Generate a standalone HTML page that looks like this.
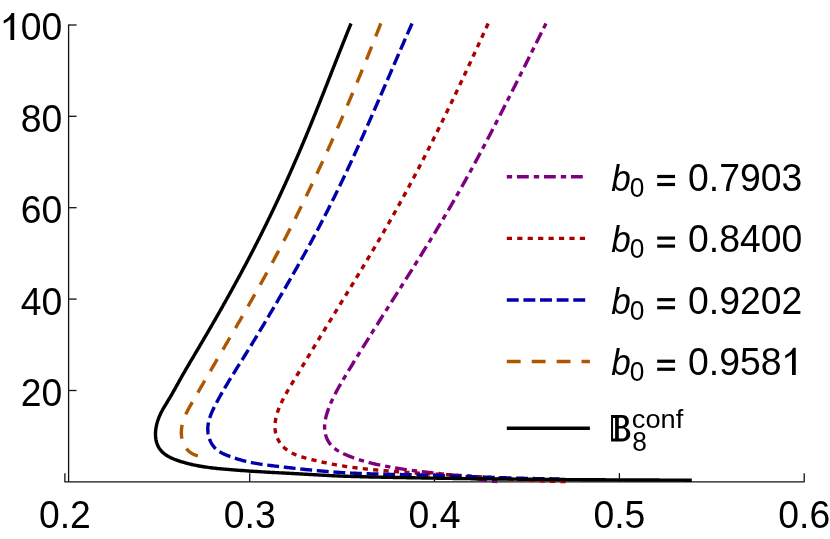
<!DOCTYPE html>
<html><head><meta charset="utf-8"><title>plot</title>
<style>
html,body{margin:0;padding:0;background:#fff;}
svg{display:block;will-change:transform;font-family:"Liberation Sans",sans-serif;}
</style></head>
<body>
<svg width="830" height="539" viewBox="0 0 830 539">
<rect width="830" height="539" fill="#fff"/>
<g stroke="#111" stroke-width="1.3" fill="none">
<line x1="64.4" y1="481.85" x2="804.6999999999999" y2="481.85"/>
<line x1="68.6" y1="481.85" x2="68.6" y2="24.450000000000045"/>
<line x1="64.9" y1="481.85" x2="64.9" y2="473.15000000000003"/>
<line x1="249.7" y1="481.85" x2="249.7" y2="473.15000000000003"/>
<line x1="434.5" y1="481.85" x2="434.5" y2="473.15000000000003"/>
<line x1="619.4" y1="481.85" x2="619.4" y2="473.15000000000003"/>
<line x1="804.2" y1="481.85" x2="804.2" y2="473.15000000000003"/>
<line x1="68.6" y1="390.5" x2="76.6" y2="390.5"/>
<line x1="68.6" y1="299.1" x2="76.6" y2="299.1"/>
<line x1="68.6" y1="207.7" x2="76.6" y2="207.7"/>
<line x1="68.6" y1="116.3" x2="76.6" y2="116.3"/>
<line x1="68.6" y1="25.0" x2="76.6" y2="25.0"/>
</g>
<g>
<path d="M545.98,23.46 L545.31,24.80 L544.64,26.14 L543.97,27.48 L543.30,28.82 L542.63,30.16 L541.97,31.50 L541.30,32.84 L540.63,34.18 L539.96,35.52 L539.29,36.86 L538.63,38.21 L537.96,39.55 L537.29,40.89 L536.62,42.23 L535.96,43.57 L535.29,44.91 L534.62,46.26 L533.95,47.60 L533.29,48.94 L532.62,50.28 L531.95,51.62 L531.28,52.97 L530.61,54.31 L529.95,55.65 L529.28,56.99 L528.61,58.34 L527.94,59.68 L527.27,61.02 L526.61,62.36 L525.94,63.70 L525.27,65.05 L524.60,66.39 L523.93,67.73 L523.26,69.07 L522.59,70.41 L521.92,71.76 L521.25,73.10 L520.58,74.44 L519.91,75.78 L519.24,77.12 L518.57,78.46 L517.90,79.80 L517.23,81.15 L516.56,82.49 L515.89,83.83 L515.21,85.17 L514.54,86.51 L513.87,87.85 L513.19,89.19 L512.52,90.53 L511.85,91.87 L511.17,93.21 L510.50,94.55 L509.82,95.89 L509.14,97.23 L508.47,98.57 L507.79,99.90 L507.11,101.24 L506.44,102.58 L505.76,103.92 L505.08,105.26 L504.40,106.59 L503.72,107.93 L503.04,109.27 L502.36,110.60 L501.68,111.94 L500.99,113.27 L500.31,114.61 L499.63,115.95 L498.94,117.28 L498.26,118.61 L497.57,119.95 L496.89,121.28 L496.20,122.62 L495.51,123.95 L494.82,125.28 L494.13,126.61 L493.44,127.95 L492.75,129.28 L492.06,130.61 L491.37,131.94 L490.68,133.27 L489.98,134.60 L489.29,135.93 L488.59,137.26 L487.90,138.59 L487.20,139.91 L486.50,141.24 L485.81,142.57 L485.11,143.89 L484.41,145.22 L483.70,146.55 L483.00,147.87 L482.30,149.20 L481.60,150.52 L480.89,151.84 L480.18,153.17 L479.48,154.49 L478.77,155.81 L478.06,157.13 L477.35,158.45 L476.64,159.77 L475.93,161.09 L475.21,162.41 L474.50,163.73 L473.79,165.05 L473.07,166.36 L472.35,167.68 L471.63,169.00 L470.91,170.31 L470.19,171.63 L469.47,172.94 L468.75,174.25 L468.02,175.57 L467.30,176.88 L466.57,178.19 L465.84,179.50 L465.12,180.81 L464.39,182.12 L463.65,183.43 L462.92,184.73 L462.19,186.04 L461.45,187.35 L460.72,188.65 L459.98,189.96 L459.24,191.26 L458.50,192.56 L457.76,193.87 L457.01,195.17 L456.27,196.47 L455.52,197.77 L454.78,199.07 L454.03,200.37 L453.28,201.66 L452.53,202.96 L451.77,204.26 L451.02,205.55 L450.26,206.85 L449.51,208.14 L448.75,209.43 L447.99,210.73 L447.23,212.02 L446.47,213.31 L445.70,214.60 L444.94,215.89 L444.17,217.18 L443.41,218.46 L442.64,219.75 L441.87,221.04 L441.10,222.32 L440.33,223.61 L439.56,224.89 L438.78,226.18 L438.01,227.46 L437.23,228.74 L436.46,230.03 L435.68,231.31 L434.90,232.59 L434.12,233.87 L433.34,235.15 L432.56,236.43 L431.78,237.71 L431.00,238.99 L430.21,240.27 L429.43,241.54 L428.64,242.82 L427.86,244.10 L427.07,245.37 L426.28,246.65 L425.49,247.92 L424.70,249.20 L423.91,250.47 L423.12,251.75 L422.33,253.02 L421.54,254.29 L420.75,255.57 L419.96,256.84 L419.16,258.11 L418.37,259.38 L417.57,260.66 L416.78,261.93 L415.98,263.20 L415.18,264.47 L414.39,265.74 L413.59,267.01 L412.79,268.28 L411.99,269.55 L411.19,270.82 L410.39,272.09 L409.59,273.35 L408.79,274.62 L407.99,275.89 L407.19,277.16 L406.39,278.43 L405.59,279.70 L404.79,280.96 L403.99,282.23 L403.18,283.50 L402.38,284.77 L401.58,286.03 L400.78,287.30 L399.97,288.57 L399.17,289.83 L398.37,291.10 L397.56,292.37 L396.76,293.63 L395.96,294.90 L395.15,296.17 L394.35,297.43 L393.54,298.70 L392.74,299.97 L391.94,301.23 L391.13,302.50 L390.33,303.76 L389.52,305.03 L388.72,306.30 L387.92,307.56 L387.11,308.83 L386.31,310.10 L385.51,311.36 L384.70,312.63 L383.90,313.90 L383.10,315.17 L382.30,316.43 L381.49,317.70 L380.69,318.97 L379.89,320.23 L379.09,321.50 L378.29,322.77 L377.49,324.04 L376.69,325.31 L375.89,326.58 L375.09,327.84 L374.29,329.11 L373.49,330.38 L372.69,331.65 L371.89,332.92 L371.09,334.19 L370.30,335.46 L369.50,336.73 L368.70,338.00 L367.91,339.28 L367.11,340.55 L366.32,341.82 L365.52,343.09 L364.73,344.36 L363.94,345.64 L363.14,346.91 L362.35,348.19 L361.56,349.46 L360.77,350.73 L359.98,352.01 L359.19,353.28 L358.41,354.56 L357.62,355.84 L356.83,357.11 L356.05,358.39 L355.26,359.67 L354.48,360.95 L353.70,362.23 L352.91,363.50 L352.13,364.78 L351.35,366.07 L350.57,367.35 L349.79,368.63 L349.02,369.91 L348.24,371.19 L347.46,372.48 L346.69,373.76 L345.92,375.04 L345.14,376.33 L344.37,377.61 L343.60,378.90 L342.84,380.19 L342.08,381.48 L341.32,382.77 L340.57,384.07 L339.82,385.37 L339.08,386.67 L338.35,387.98 L337.63,389.29 L336.91,390.60 L336.20,391.92 L335.51,393.24 L334.82,394.57 L334.15,395.91 L333.49,397.25 L332.84,398.60 L332.20,399.96 L331.58,401.32 L330.98,402.69 L330.39,404.07 L329.82,405.45 L329.26,406.85 L328.72,408.25 L328.20,409.67 L327.70,411.09 L327.22,412.53 L326.77,413.97 L326.35,415.42 L325.96,416.88 L325.61,418.35 L325.30,419.83 L325.04,421.32 L324.84,422.81 L324.69,424.31 L324.61,425.82 L324.59,427.34 L324.65,428.85 L324.77,430.37 L324.97,431.87 L325.24,433.36 L325.59,434.83 L326.02,436.27 L326.53,437.69 L327.12,439.06 L327.79,440.40 L328.53,441.69 L329.35,442.93 L330.24,444.13 L331.20,445.27 L332.21,446.35 L333.29,447.37 L334.43,448.33 L335.61,449.23 L336.85,450.08 L338.12,450.88 L339.42,451.64 L340.76,452.35 L342.11,453.03 L343.48,453.69 L344.87,454.32 L346.26,454.93 L347.65,455.52 L349.05,456.10 L350.45,456.66 L351.86,457.20 L353.27,457.73 L354.69,458.24 L356.11,458.73 L357.54,459.21 L358.96,459.68 L360.40,460.13 L361.83,460.57 L363.27,460.99 L364.71,461.40 L366.16,461.81 L367.60,462.19 L369.06,462.57 L370.51,462.94 L371.96,463.30 L373.42,463.64 L374.88,463.98 L376.34,464.31 L377.81,464.63 L379.27,464.94 L380.74,465.25 L382.21,465.55 L383.68,465.84 L385.15,466.13 L386.62,466.41 L388.09,466.68 L389.57,466.95 L391.04,467.21 L392.52,467.47 L394.00,467.72 L395.47,467.97 L396.95,468.21 L398.43,468.44 L399.91,468.68 L401.39,468.90 L402.88,469.13 L404.36,469.34 L405.84,469.56 L407.33,469.77 L408.81,469.98 L410.30,470.18 L411.78,470.38 L413.27,470.57 L414.76,470.77 L416.24,470.96 L417.73,471.14 L419.22,471.33 L420.71,471.51 L422.20,471.68 L423.69,471.86 L425.18,472.03 L426.67,472.20 L428.16,472.37 L429.65,472.54 L431.14,472.71 L432.63,472.87 L434.12,473.03 L435.61,473.19 L437.11,473.35 L438.60,473.51 L440.09,473.67 L441.58,473.83 L443.07,473.98 L444.56,474.14 L446.05,474.30 L447.55,474.46 L449.04,474.62 L450.53,474.78 L452.02,474.95 L453.50,475.12 L454.99,475.30 L456.48,475.48 L457.97,475.67 L459.45,475.87 L460.94,476.08 L462.42,476.29 L463.90,476.51 L465.38,476.74 L466.86,476.99 L468.34,477.24 L469.81,477.51 L471.29,477.78 L472.76,478.06 L474.24,478.34 L475.71,478.63 L477.18,478.92 L478.66,479.20 L480.13,479.47 L481.61,479.74 L483.08,480.00 L484.56,480.25 L486.04,480.48 L487.52,480.69 L489.01,480.89 L490.50,481.06 L491.99,481.21 L493.49,481.33 L494.99,481.42 L496.49,481.48 L498.00,481.51" fill="none" stroke="#7f007f" stroke-width="3.4" stroke-dasharray="5.35 4.8 11.85 5.0"/>
<path d="M488.16,23.46 L487.54,24.82 L486.92,26.19 L486.30,27.55 L485.68,28.92 L485.06,30.28 L484.44,31.64 L483.82,33.01 L483.20,34.37 L482.58,35.73 L481.96,37.10 L481.33,38.46 L480.71,39.82 L480.09,41.18 L479.47,42.55 L478.84,43.91 L478.22,45.27 L477.59,46.63 L476.97,47.99 L476.34,49.36 L475.72,50.72 L475.09,52.08 L474.46,53.44 L473.84,54.80 L473.21,56.16 L472.58,57.52 L471.95,58.88 L471.32,60.24 L470.69,61.60 L470.06,62.96 L469.43,64.32 L468.80,65.68 L468.17,67.04 L467.54,68.40 L466.90,69.75 L466.27,71.11 L465.64,72.47 L465.00,73.83 L464.37,75.18 L463.73,76.54 L463.09,77.90 L462.46,79.25 L461.82,80.61 L461.18,81.97 L460.54,83.32 L459.90,84.68 L459.26,86.03 L458.62,87.39 L457.98,88.74 L457.34,90.10 L456.69,91.45 L456.05,92.80 L455.41,94.16 L454.76,95.51 L454.12,96.86 L453.47,98.21 L452.82,99.57 L452.18,100.92 L451.53,102.27 L450.88,103.62 L450.23,104.97 L449.58,106.32 L448.93,107.67 L448.28,109.02 L447.62,110.37 L446.97,111.72 L446.32,113.06 L445.66,114.41 L445.00,115.76 L444.35,117.11 L443.69,118.45 L443.03,119.80 L442.37,121.14 L441.71,122.49 L441.05,123.84 L440.39,125.18 L439.73,126.52 L439.07,127.87 L438.40,129.21 L437.74,130.55 L437.07,131.90 L436.40,133.24 L435.74,134.58 L435.07,135.92 L434.40,137.26 L433.73,138.60 L433.06,139.94 L432.39,141.28 L431.71,142.62 L431.04,143.96 L430.37,145.30 L429.69,146.63 L429.01,147.97 L428.34,149.31 L427.66,150.64 L426.98,151.98 L426.30,153.31 L425.62,154.65 L424.93,155.98 L424.25,157.31 L423.57,158.65 L422.88,159.98 L422.19,161.31 L421.51,162.64 L420.82,163.97 L420.13,165.30 L419.44,166.63 L418.75,167.96 L418.05,169.29 L417.36,170.62 L416.67,171.94 L415.97,173.27 L415.27,174.60 L414.58,175.92 L413.88,177.25 L413.18,178.57 L412.48,179.90 L411.77,181.22 L411.07,182.54 L410.36,183.86 L409.66,185.19 L408.95,186.51 L408.24,187.83 L407.54,189.15 L406.82,190.47 L406.11,191.78 L405.40,193.10 L404.69,194.42 L403.97,195.74 L403.26,197.05 L402.54,198.37 L401.82,199.68 L401.10,200.99 L400.38,202.31 L399.66,203.62 L398.93,204.93 L398.21,206.24 L397.48,207.55 L396.76,208.86 L396.03,210.17 L395.30,211.48 L394.57,212.79 L393.83,214.10 L393.10,215.40 L392.37,216.71 L391.63,218.01 L390.89,219.32 L390.15,220.62 L389.41,221.92 L388.67,223.23 L387.93,224.53 L387.18,225.83 L386.44,227.13 L385.69,228.43 L384.95,229.72 L384.20,231.02 L383.45,232.32 L382.70,233.62 L381.94,234.91 L381.19,236.21 L380.43,237.50 L379.68,238.80 L378.92,240.09 L378.16,241.38 L377.41,242.68 L376.65,243.97 L375.89,245.26 L375.12,246.55 L374.36,247.84 L373.60,249.13 L372.83,250.42 L372.07,251.71 L371.30,253.00 L370.53,254.28 L369.77,255.57 L369.00,256.86 L368.23,258.14 L367.46,259.43 L366.69,260.71 L365.92,262.00 L365.14,263.28 L364.37,264.57 L363.60,265.85 L362.82,267.14 L362.05,268.42 L361.27,269.70 L360.50,270.98 L359.72,272.27 L358.94,273.55 L358.16,274.83 L357.39,276.11 L356.61,277.39 L355.83,278.67 L355.05,279.95 L354.27,281.23 L353.49,282.51 L352.71,283.79 L351.93,285.07 L351.15,286.35 L350.36,287.63 L349.58,288.91 L348.80,290.18 L348.02,291.46 L347.23,292.74 L346.45,294.02 L345.67,295.30 L344.89,296.57 L344.10,297.85 L343.32,299.13 L342.53,300.41 L341.75,301.68 L340.97,302.96 L340.18,304.24 L339.40,305.51 L338.61,306.79 L337.83,308.07 L337.05,309.34 L336.26,310.62 L335.48,311.90 L334.70,313.17 L333.91,314.45 L333.13,315.73 L332.34,317.00 L331.56,318.28 L330.78,319.56 L330.00,320.83 L329.21,322.11 L328.43,323.39 L327.65,324.66 L326.87,325.94 L326.08,327.22 L325.30,328.50 L324.52,329.77 L323.74,331.05 L322.96,332.33 L322.18,333.61 L321.40,334.89 L320.62,336.17 L319.84,337.45 L319.06,338.72 L318.28,340.00 L317.50,341.28 L316.73,342.57 L315.95,343.85 L315.17,345.13 L314.40,346.41 L313.62,347.69 L312.84,348.97 L312.07,350.26 L311.29,351.54 L310.52,352.82 L309.75,354.11 L308.98,355.39 L308.20,356.68 L307.43,357.96 L306.66,359.25 L305.89,360.53 L305.12,361.82 L304.34,363.10 L303.57,364.39 L302.80,365.67 L302.02,366.95 L301.25,368.24 L300.47,369.52 L299.70,370.80 L298.92,372.08 L298.14,373.36 L297.36,374.64 L296.58,375.92 L295.79,377.19 L295.01,378.47 L294.23,379.74 L293.44,381.02 L292.66,382.30 L291.88,383.57 L291.11,384.85 L290.34,386.14 L289.58,387.42 L288.82,388.71 L288.07,390.00 L287.32,391.30 L286.59,392.60 L285.86,393.91 L285.14,395.23 L284.44,396.55 L283.75,397.88 L283.07,399.21 L282.40,400.56 L281.75,401.91 L281.11,403.27 L280.49,404.64 L279.88,406.02 L279.30,407.42 L278.73,408.82 L278.20,410.23 L277.69,411.66 L277.22,413.09 L276.78,414.54 L276.38,415.99 L276.02,417.46 L275.71,418.94 L275.45,420.43 L275.24,421.92 L275.09,423.42 L275.00,424.93 L274.97,426.43 L275.00,427.93 L275.11,429.43 L275.29,430.92 L275.55,432.39 L275.87,433.85 L276.28,435.29 L276.75,436.70 L277.31,438.09 L277.94,439.43 L278.65,440.75 L279.42,442.02 L280.27,443.25 L281.18,444.44 L282.14,445.58 L283.17,446.67 L284.25,447.70 L285.38,448.69 L286.55,449.62 L287.77,450.50 L289.02,451.33 L290.31,452.11 L291.62,452.84 L292.96,453.52 L294.32,454.16 L295.70,454.76 L297.10,455.32 L298.51,455.84 L299.93,456.33 L301.37,456.79 L302.82,457.23 L304.28,457.65 L305.74,458.05 L307.21,458.43 L308.67,458.81 L310.14,459.18 L311.61,459.54 L313.07,459.90 L314.54,460.26 L316.00,460.61 L317.46,460.96 L318.92,461.30 L320.38,461.63 L321.84,461.97 L323.30,462.29 L324.75,462.61 L326.21,462.93 L327.68,463.23 L329.14,463.53 L330.60,463.83 L332.07,464.11 L333.53,464.39 L335.00,464.66 L336.47,464.93 L337.94,465.19 L339.42,465.44 L340.89,465.68 L342.37,465.92 L343.85,466.15 L345.33,466.38 L346.81,466.60 L348.29,466.81 L349.77,467.02 L351.25,467.22 L352.74,467.42 L354.22,467.61 L355.71,467.80 L357.20,467.99 L358.69,468.17 L360.18,468.34 L361.67,468.51 L363.16,468.68 L364.65,468.84 L366.14,469.00 L367.63,469.16 L369.12,469.31 L370.62,469.46 L372.11,469.61 L373.60,469.75 L375.10,469.89 L376.59,470.03 L378.08,470.16 L379.58,470.30 L381.07,470.43 L382.56,470.56 L384.06,470.69 L385.55,470.81 L387.04,470.93 L388.54,471.06 L390.03,471.17 L391.52,471.29 L393.02,471.41 L394.51,471.52 L396.01,471.63 L397.50,471.74 L398.99,471.85 L400.49,471.95 L401.98,472.06 L403.48,472.16 L404.97,472.26 L406.47,472.36 L407.96,472.46 L409.46,472.56 L410.95,472.65 L412.45,472.74 L413.94,472.84 L415.44,472.93 L416.93,473.02 L418.43,473.11 L419.92,473.20 L421.42,473.28 L422.91,473.37 L424.41,473.45 L425.90,473.54 L427.40,473.62 L428.90,473.71 L430.39,473.79 L431.89,473.87 L433.38,473.95 L434.88,474.03 L436.38,474.12 L437.87,474.20 L439.37,474.28 L440.87,474.36 L442.36,474.44 L443.86,474.52 L445.35,474.60 L446.85,474.69 L448.35,474.77 L449.84,474.85 L451.34,474.94 L452.84,475.02 L454.33,475.11 L455.83,475.19 L457.32,475.28 L458.82,475.37 L460.32,475.46 L461.81,475.55 L463.31,475.64 L464.80,475.74 L466.30,475.83 L467.79,475.93 L469.29,476.03 L470.78,476.13 L472.28,476.23 L473.77,476.33 L475.27,476.43 L476.76,476.54 L478.26,476.64 L479.75,476.75 L481.25,476.86 L482.74,476.96 L484.24,477.07 L485.73,477.18 L487.23,477.29 L488.72,477.40 L490.22,477.51 L491.71,477.62 L493.20,477.73 L494.70,477.84 L496.19,477.96 L497.69,478.07 L499.18,478.18 L500.68,478.29 L502.17,478.40 L503.66,478.51 L505.16,478.62 L506.65,478.72 L508.15,478.83 L509.64,478.94 L511.14,479.05 L512.63,479.15 L514.13,479.26 L515.62,479.36 L517.12,479.46 L518.61,479.56 L520.10,479.66 L521.60,479.76 L523.09,479.86 L524.59,479.95 L526.08,480.04 L527.58,480.14 L529.08,480.23 L530.57,480.31 L532.07,480.40 L533.56,480.48 L535.06,480.56 L536.55,480.64 L538.05,480.72 L539.55,480.79 L541.04,480.86 L542.54,480.93 L544.03,481.00 L545.53,481.06 L547.03,481.12 L548.52,481.18 L550.02,481.23 L551.52,481.29 L553.02,481.33 L554.51,481.38 L556.01,481.42 L557.51,481.46 L559.01,481.49 L560.51,481.52 L562.00,481.55 L563.50,481.57 L565.00,481.59 L566.50,481.61 L568.00,481.62 L569.50,481.63 L571.00,481.63" fill="none" stroke="#aa0000" stroke-width="3.4" stroke-dasharray="5.2 5.23"/>
<path d="M412.02,23.47 L411.42,24.84 L410.82,26.21 L410.21,27.58 L409.61,28.95 L409.01,30.32 L408.41,31.69 L407.80,33.07 L407.20,34.44 L406.60,35.81 L406.00,37.18 L405.40,38.55 L404.80,39.93 L404.20,41.30 L403.60,42.67 L403.01,44.05 L402.41,45.42 L401.81,46.79 L401.21,48.17 L400.61,49.54 L400.02,50.92 L399.42,52.29 L398.82,53.66 L398.23,55.04 L397.63,56.41 L397.03,57.79 L396.44,59.16 L395.84,60.54 L395.25,61.91 L394.65,63.29 L394.06,64.66 L393.46,66.04 L392.86,67.41 L392.27,68.79 L391.67,70.16 L391.08,71.54 L390.48,72.92 L389.89,74.29 L389.29,75.67 L388.70,77.04 L388.10,78.42 L387.51,79.79 L386.91,81.17 L386.31,82.54 L385.72,83.92 L385.12,85.29 L384.52,86.67 L383.93,88.04 L383.33,89.42 L382.73,90.79 L382.14,92.17 L381.54,93.54 L380.94,94.92 L380.34,96.29 L379.75,97.67 L379.15,99.04 L378.55,100.42 L377.95,101.79 L377.35,103.16 L376.75,104.54 L376.15,105.91 L375.55,107.29 L374.95,108.66 L374.35,110.03 L373.75,111.40 L373.14,112.78 L372.54,114.15 L371.94,115.52 L371.33,116.89 L370.73,118.27 L370.12,119.64 L369.52,121.01 L368.91,122.38 L368.31,123.75 L367.70,125.12 L367.09,126.49 L366.48,127.86 L365.87,129.23 L365.26,130.60 L364.65,131.97 L364.04,133.34 L363.43,134.70 L362.82,136.07 L362.21,137.44 L361.59,138.81 L360.98,140.17 L360.36,141.54 L359.74,142.91 L359.13,144.27 L358.51,145.64 L357.89,147.00 L357.27,148.37 L356.65,149.73 L356.03,151.09 L355.41,152.46 L354.78,153.82 L354.16,155.18 L353.53,156.54 L352.91,157.91 L352.28,159.27 L351.65,160.63 L351.02,161.99 L350.39,163.35 L349.76,164.70 L349.13,166.06 L348.49,167.42 L347.86,168.78 L347.22,170.13 L346.59,171.49 L345.95,172.85 L345.31,174.20 L344.67,175.56 L344.03,176.91 L343.39,178.26 L342.74,179.62 L342.10,180.97 L341.45,182.32 L340.80,183.67 L340.15,185.02 L339.50,186.37 L338.85,187.72 L338.20,189.07 L337.54,190.42 L336.89,191.76 L336.23,193.11 L335.57,194.45 L334.91,195.80 L334.25,197.14 L333.59,198.49 L332.93,199.83 L332.26,201.17 L331.59,202.51 L330.92,203.85 L330.25,205.19 L329.58,206.53 L328.91,207.87 L328.23,209.21 L327.56,210.55 L326.88,211.88 L326.20,213.22 L325.52,214.55 L324.84,215.89 L324.15,217.22 L323.47,218.55 L322.78,219.88 L322.09,221.21 L321.40,222.54 L320.70,223.87 L320.01,225.20 L319.31,226.52 L318.61,227.85 L317.91,229.18 L317.21,230.50 L316.51,231.82 L315.81,233.15 L315.10,234.47 L314.39,235.79 L313.68,237.11 L312.97,238.43 L312.26,239.75 L311.55,241.07 L310.83,242.39 L310.12,243.70 L309.40,245.02 L308.68,246.33 L307.96,247.65 L307.24,248.96 L306.52,250.28 L305.79,251.59 L305.07,252.90 L304.34,254.21 L303.61,255.52 L302.88,256.83 L302.15,258.14 L301.42,259.45 L300.69,260.76 L299.96,262.07 L299.22,263.37 L298.48,264.68 L297.75,265.99 L297.01,267.29 L296.27,268.60 L295.53,269.90 L294.79,271.20 L294.05,272.51 L293.31,273.81 L292.56,275.11 L291.82,276.41 L291.07,277.71 L290.33,279.01 L289.58,280.31 L288.83,281.61 L288.08,282.91 L287.33,284.21 L286.58,285.51 L285.83,286.81 L285.08,288.10 L284.33,289.40 L283.58,290.70 L282.82,291.99 L282.07,293.29 L281.32,294.58 L280.56,295.88 L279.81,297.17 L279.05,298.47 L278.29,299.76 L277.54,301.05 L276.78,302.35 L276.02,303.64 L275.26,304.93 L274.50,306.22 L273.74,307.51 L272.98,308.81 L272.22,310.10 L271.46,311.39 L270.70,312.68 L269.94,313.97 L269.18,315.26 L268.42,316.55 L267.65,317.83 L266.89,319.12 L266.13,320.41 L265.36,321.70 L264.60,322.99 L263.83,324.27 L263.07,325.56 L262.30,326.84 L261.53,328.13 L260.76,329.42 L259.99,330.70 L259.22,331.98 L258.45,333.27 L257.68,334.55 L256.90,335.83 L256.13,337.11 L255.35,338.40 L254.58,339.68 L253.80,340.96 L253.02,342.24 L252.24,343.51 L251.46,344.79 L250.67,346.07 L249.89,347.35 L249.10,348.62 L248.31,349.90 L247.53,351.17 L246.74,352.45 L245.94,353.72 L245.15,355.00 L244.36,356.27 L243.56,357.54 L242.76,358.81 L241.97,360.08 L241.17,361.35 L240.37,362.62 L239.57,363.90 L238.77,365.17 L237.97,366.44 L237.18,367.71 L236.38,368.98 L235.58,370.25 L234.79,371.53 L234.00,372.80 L233.21,374.07 L232.42,375.35 L231.63,376.63 L230.84,377.90 L230.06,379.18 L229.28,380.46 L228.50,381.74 L227.73,383.03 L226.95,384.31 L226.19,385.60 L225.42,386.88 L224.66,388.17 L223.90,389.47 L223.15,390.76 L222.40,392.06 L221.66,393.36 L220.92,394.66 L220.19,395.96 L219.46,397.27 L218.74,398.57 L218.02,399.89 L217.31,401.20 L216.61,402.52 L215.91,403.84 L215.22,405.16 L214.54,406.49 L213.87,407.83 L213.23,409.18 L212.60,410.54 L211.99,411.90 L211.41,413.29 L210.85,414.68 L210.33,416.10 L209.84,417.53 L209.39,418.97 L208.98,420.44 L208.62,421.91 L208.32,423.40 L208.08,424.90 L207.90,426.40 L207.80,427.91 L207.78,429.43 L207.84,430.95 L207.97,432.46 L208.18,433.96 L208.47,435.45 L208.83,436.92 L209.27,438.36 L209.78,439.78 L210.36,441.16 L211.02,442.50 L211.75,443.80 L212.56,445.05 L213.43,446.25 L214.37,447.39 L215.39,448.46 L216.47,449.47 L217.62,450.41 L218.84,451.27 L220.11,452.06 L221.43,452.80 L222.79,453.49 L224.18,454.13 L225.60,454.73 L227.03,455.30 L228.47,455.86 L229.91,456.39 L231.34,456.91 L232.77,457.42 L234.21,457.91 L235.64,458.38 L237.07,458.84 L238.50,459.29 L239.93,459.72 L241.37,460.13 L242.80,460.53 L244.24,460.91 L245.68,461.28 L247.13,461.63 L248.57,461.96 L250.03,462.28 L251.49,462.58 L252.95,462.87 L254.41,463.15 L255.88,463.41 L257.35,463.66 L258.83,463.90 L260.31,464.13 L261.78,464.35 L263.27,464.56 L264.75,464.77 L266.24,464.97 L267.72,465.16 L269.21,465.35 L270.70,465.53 L272.19,465.71 L273.68,465.89 L275.17,466.07 L276.66,466.24 L278.15,466.42 L279.65,466.60 L281.14,466.77 L282.63,466.95 L284.12,467.12 L285.61,467.30 L287.10,467.47 L288.59,467.64 L290.08,467.81 L291.57,467.98 L293.06,468.15 L294.55,468.32 L296.04,468.48 L297.53,468.65 L299.02,468.81 L300.51,468.97 L302.00,469.13 L303.50,469.29 L304.99,469.44 L306.48,469.60 L307.97,469.75 L309.46,469.90 L310.95,470.05 L312.44,470.20 L313.93,470.34 L315.43,470.49 L316.92,470.63 L318.41,470.76 L319.90,470.90 L321.39,471.03 L322.89,471.16 L324.38,471.29 L325.87,471.42 L327.36,471.54 L328.86,471.66 L330.35,471.78 L331.84,471.89 L333.34,472.00 L334.83,472.11 L336.33,472.21 L337.82,472.31 L339.31,472.41 L340.81,472.50 L342.30,472.60 L343.80,472.68 L345.29,472.77 L346.79,472.85 L348.28,472.93 L349.78,473.01 L351.28,473.08 L352.77,473.16 L354.27,473.23 L355.76,473.29 L357.26,473.36 L358.76,473.42 L360.25,473.48 L361.75,473.54 L363.25,473.59 L364.75,473.65 L366.24,473.70 L367.74,473.75 L369.24,473.80 L370.74,473.85 L372.23,473.89 L373.73,473.94 L375.23,473.98 L376.73,474.02 L378.23,474.06 L379.72,474.10 L381.22,474.14 L382.72,474.17 L384.22,474.21 L385.72,474.24 L387.22,474.28 L388.72,474.31 L390.21,474.34 L391.71,474.38 L393.21,474.41 L394.71,474.44 L396.21,474.47 L397.71,474.50 L399.21,474.53 L400.71,474.56 L402.21,474.59 L403.70,474.62 L405.20,474.65 L406.70,474.68 L408.20,474.72 L409.70,474.75 L411.20,474.78 L412.70,474.81 L414.20,474.84 L415.69,474.88 L417.19,474.91 L418.69,474.95 L420.19,474.98 L421.69,475.02 L423.19,475.06 L424.69,475.10 L426.18,475.14 L427.68,475.18 L429.18,475.22 L430.68,475.26 L432.18,475.31 L433.68,475.35 L435.17,475.40 L436.67,475.44 L438.17,475.49 L439.67,475.53 L441.17,475.58 L442.66,475.63 L444.16,475.68 L445.66,475.73 L447.16,475.78 L448.65,475.83 L450.15,475.88 L451.65,475.93 L453.15,475.98 L454.64,476.03 L456.14,476.08 L457.64,476.13 L459.14,476.19 L460.63,476.24 L462.13,476.29 L463.63,476.35 L465.13,476.40 L466.62,476.45 L468.12,476.51 L469.62,476.56 L471.12,476.61 L472.61,476.67 L474.11,476.72 L475.61,476.78 L477.11,476.83 L478.60,476.88 L480.10,476.94 L481.60,476.99 L483.10,477.04 L484.59,477.10 L486.09,477.15 L487.59,477.20 L489.09,477.25 L490.58,477.31 L492.08,477.36 L493.58,477.41 L495.08,477.46 L496.57,477.51 L498.07,477.56 L499.57,477.61 L501.07,477.66 L502.56,477.71 L504.06,477.76 L505.56,477.80 L507.06,477.85 L508.55,477.90 L510.05,477.94 L511.55,477.99 L513.05,478.03 L514.55,478.08 L516.04,478.12 L517.54,478.16 L519.04,478.20 L520.54,478.24 L522.03,478.28 L523.53,478.32 L525.03,478.36 L526.53,478.39 L528.03,478.43 L529.53,478.46 L531.02,478.50 L532.52,478.53 L534.02,478.56 L535.52,478.59 L537.02,478.62 L538.52,478.65 L540.01,478.67 L541.51,478.70 L543.01,478.72 L544.51,478.75 L546.01,478.77 L547.51,478.79 L549.01,478.81 L550.51,478.82 L552.01,478.84 L553.50,478.85 L555.00,478.87 L556.50,478.88 L558.00,478.89 L559.50,478.89" fill="none" stroke="#0000aa" stroke-width="3.4" stroke-dasharray="11.9 4.72"/>
<path d="M380.78,23.49 L380.23,24.88 L379.69,26.27 L379.14,27.67 L378.60,29.06 L378.05,30.45 L377.50,31.84 L376.96,33.24 L376.41,34.63 L375.86,36.02 L375.31,37.41 L374.76,38.80 L374.21,40.19 L373.65,41.59 L373.10,42.98 L372.55,44.37 L371.99,45.76 L371.44,47.15 L370.88,48.54 L370.33,49.93 L369.77,51.32 L369.21,52.71 L368.65,54.09 L368.09,55.48 L367.53,56.87 L366.97,58.26 L366.41,59.65 L365.85,61.04 L365.29,62.42 L364.72,63.81 L364.16,65.20 L363.59,66.58 L363.03,67.97 L362.46,69.36 L361.89,70.74 L361.33,72.13 L360.76,73.51 L360.19,74.90 L359.62,76.28 L359.04,77.67 L358.47,79.05 L357.90,80.44 L357.33,81.82 L356.75,83.21 L356.18,84.59 L355.60,85.97 L355.02,87.35 L354.45,88.74 L353.87,90.12 L353.29,91.50 L352.71,92.88 L352.13,94.26 L351.54,95.64 L350.96,97.02 L350.38,98.40 L349.79,99.78 L349.21,101.16 L348.62,102.54 L348.04,103.92 L347.45,105.30 L346.86,106.68 L346.27,108.05 L345.68,109.43 L345.09,110.81 L344.50,112.19 L343.91,113.56 L343.31,114.94 L342.72,116.31 L342.12,117.69 L341.53,119.06 L340.93,120.44 L340.33,121.81 L339.73,123.19 L339.13,124.56 L338.53,125.93 L337.93,127.30 L337.33,128.68 L336.72,130.05 L336.12,131.42 L335.51,132.79 L334.91,134.16 L334.30,135.53 L333.69,136.90 L333.08,138.27 L332.47,139.64 L331.86,141.01 L331.25,142.38 L330.64,143.74 L330.02,145.11 L329.41,146.48 L328.79,147.84 L328.18,149.21 L327.56,150.58 L326.94,151.94 L326.32,153.31 L325.70,154.67 L325.08,156.03 L324.46,157.40 L323.83,158.76 L323.21,160.12 L322.58,161.48 L321.96,162.84 L321.33,164.21 L320.70,165.57 L320.07,166.93 L319.44,168.29 L318.81,169.64 L318.18,171.00 L317.55,172.36 L316.91,173.72 L316.28,175.08 L315.64,176.43 L315.00,177.79 L314.36,179.14 L313.72,180.50 L313.08,181.85 L312.44,183.21 L311.80,184.56 L311.16,185.91 L310.51,187.27 L309.87,188.62 L309.22,189.97 L308.57,191.32 L307.92,192.67 L307.27,194.02 L306.62,195.37 L305.97,196.72 L305.32,198.07 L304.66,199.42 L304.01,200.76 L303.35,202.11 L302.69,203.45 L302.03,204.80 L301.37,206.15 L300.71,207.49 L300.05,208.83 L299.39,210.18 L298.73,211.52 L298.06,212.86 L297.39,214.20 L296.73,215.54 L296.06,216.88 L295.39,218.22 L294.72,219.56 L294.04,220.90 L293.37,222.24 L292.70,223.58 L292.02,224.91 L291.35,226.25 L290.67,227.58 L289.99,228.92 L289.31,230.25 L288.63,231.59 L287.95,232.92 L287.26,234.25 L286.58,235.58 L285.89,236.92 L285.20,238.25 L284.52,239.58 L283.83,240.91 L283.14,242.23 L282.44,243.56 L281.75,244.89 L281.06,246.22 L280.36,247.54 L279.67,248.87 L278.97,250.19 L278.27,251.52 L277.57,252.84 L276.87,254.16 L276.17,255.48 L275.46,256.80 L274.76,258.13 L274.05,259.45 L273.34,260.76 L272.63,262.08 L271.92,263.40 L271.21,264.72 L270.50,266.03 L269.79,267.35 L269.07,268.67 L268.36,269.98 L267.64,271.29 L266.92,272.61 L266.20,273.92 L265.48,275.23 L264.76,276.54 L264.03,277.85 L263.31,279.16 L262.58,280.47 L261.86,281.78 L261.13,283.09 L260.40,284.40 L259.67,285.70 L258.94,287.01 L258.21,288.32 L257.48,289.62 L256.75,290.93 L256.01,292.23 L255.28,293.54 L254.54,294.84 L253.81,296.14 L253.07,297.45 L252.33,298.75 L251.59,300.05 L250.85,301.35 L250.11,302.65 L249.37,303.95 L248.63,305.26 L247.88,306.56 L247.14,307.85 L246.39,309.15 L245.65,310.45 L244.90,311.75 L244.16,313.05 L243.41,314.35 L242.66,315.65 L241.92,316.94 L241.17,318.24 L240.42,319.54 L239.67,320.83 L238.92,322.13 L238.17,323.43 L237.42,324.72 L236.66,326.02 L235.91,327.31 L235.16,328.61 L234.41,329.90 L233.65,331.20 L232.90,332.49 L232.15,333.79 L231.39,335.08 L230.64,336.38 L229.88,337.67 L229.13,338.97 L228.37,340.26 L227.61,341.56 L226.86,342.85 L226.10,344.14 L225.34,345.44 L224.59,346.73 L223.83,348.03 L223.07,349.32 L222.32,350.61 L221.56,351.91 L220.80,353.20 L220.04,354.50 L219.29,355.79 L218.53,357.08 L217.77,358.38 L217.01,359.67 L216.26,360.97 L215.50,362.26 L214.74,363.56 L213.98,364.85 L213.23,366.15 L212.47,367.44 L211.71,368.74 L210.96,370.03 L210.20,371.33 L209.44,372.62 L208.68,373.92 L207.93,375.21 L207.17,376.51 L206.42,377.81 L205.66,379.10 L204.91,380.40 L204.15,381.70 L203.40,383.00 L202.64,384.29 L201.89,385.59 L201.13,386.89 L200.38,388.19 L199.63,389.49 L198.87,390.79 L198.12,392.09 L197.37,393.39 L196.62,394.69 L195.87,395.99 L195.12,397.29 L194.37,398.59 L193.62,399.89 L192.87,401.20 L192.12,402.50 L191.37,403.80 L190.63,405.11 L189.89,406.42 L189.16,407.73 L188.44,409.04 L187.74,410.36 L187.06,411.69 L186.40,413.02 L185.76,414.37 L185.16,415.72 L184.59,417.09 L184.05,418.47 L183.55,419.86 L183.10,421.27 L182.68,422.70 L182.32,424.14 L182.01,425.60 L181.76,427.08 L181.56,428.57 L181.43,430.08 L181.36,431.59 L181.35,433.11 L181.42,434.62 L181.56,436.13 L181.78,437.63 L182.07,439.11 L182.45,440.58 L182.90,442.01 L183.44,443.41 L184.05,444.78 L184.75,446.10 L185.53,447.36 L186.39,448.57 L187.33,449.72 L188.36,450.80 L189.47,451.80 L190.67,452.73 L191.95,453.56 L193.32,454.30 L194.77,454.95 L196.31,455.48 L197.94,455.91" fill="none" stroke="#ad5700" stroke-width="3.4" stroke-dasharray="13.85 11.07"/>
<path d="M351.00,23.50 L350.43,24.89 L349.87,26.28 L349.30,27.67 L348.74,29.06 L348.18,30.45 L347.62,31.84 L347.06,33.23 L346.50,34.62 L345.94,36.01 L345.38,37.40 L344.83,38.79 L344.27,40.18 L343.71,41.57 L343.16,42.97 L342.60,44.36 L342.05,45.75 L341.50,47.14 L340.94,48.54 L340.39,49.93 L339.84,51.32 L339.29,52.72 L338.74,54.11 L338.19,55.50 L337.64,56.90 L337.09,58.29 L336.54,59.69 L335.99,61.08 L335.44,62.48 L334.89,63.87 L334.34,65.27 L333.79,66.66 L333.24,68.06 L332.69,69.45 L332.15,70.85 L331.60,72.24 L331.05,73.64 L330.50,75.03 L329.95,76.43 L329.40,77.82 L328.86,79.22 L328.31,80.61 L327.76,82.00 L327.21,83.40 L326.66,84.79 L326.11,86.19 L325.56,87.58 L325.01,88.98 L324.46,90.37 L323.91,91.77 L323.36,93.16 L322.81,94.55 L322.26,95.95 L321.70,97.34 L321.15,98.73 L320.60,100.13 L320.04,101.52 L319.49,102.91 L318.93,104.30 L318.38,105.70 L317.82,107.09 L317.26,108.48 L316.71,109.87 L316.15,111.26 L315.59,112.65 L315.03,114.04 L314.47,115.43 L313.91,116.82 L313.34,118.21 L312.78,119.60 L312.22,120.99 L311.65,122.38 L311.09,123.76 L310.52,125.15 L309.95,126.54 L309.38,127.92 L308.81,129.31 L308.24,130.70 L307.67,132.08 L307.09,133.47 L306.52,134.85 L305.94,136.23 L305.36,137.62 L304.79,139.00 L304.21,140.38 L303.62,141.76 L303.04,143.14 L302.46,144.52 L301.87,145.90 L301.29,147.28 L300.70,148.66 L300.11,150.04 L299.52,151.42 L298.93,152.80 L298.34,154.17 L297.75,155.55 L297.15,156.93 L296.56,158.30 L295.96,159.68 L295.36,161.05 L294.76,162.42 L294.16,163.80 L293.56,165.17 L292.96,166.54 L292.35,167.91 L291.75,169.28 L291.14,170.65 L290.53,172.02 L289.92,173.39 L289.31,174.76 L288.70,176.13 L288.08,177.50 L287.47,178.87 L286.85,180.23 L286.24,181.60 L285.62,182.96 L285.00,184.33 L284.37,185.69 L283.75,187.05 L283.13,188.42 L282.50,189.78 L281.88,191.14 L281.25,192.50 L280.62,193.86 L279.99,195.22 L279.36,196.58 L278.72,197.94 L278.09,199.30 L277.45,200.65 L276.82,202.01 L276.18,203.37 L275.54,204.72 L274.90,206.08 L274.25,207.43 L273.61,208.78 L272.96,210.14 L272.32,211.49 L271.67,212.84 L271.02,214.19 L270.37,215.54 L269.72,216.89 L269.06,218.24 L268.41,219.59 L267.75,220.93 L267.09,222.28 L266.43,223.63 L265.77,224.97 L265.11,226.32 L264.45,227.66 L263.78,229.00 L263.12,230.35 L262.45,231.69 L261.78,233.03 L261.11,234.37 L260.44,235.71 L259.77,237.05 L259.09,238.39 L258.42,239.72 L257.74,241.06 L257.06,242.40 L256.38,243.73 L255.70,245.07 L255.01,246.40 L254.33,247.73 L253.64,249.07 L252.96,250.40 L252.27,251.73 L251.58,253.06 L250.89,254.39 L250.19,255.72 L249.50,257.05 L248.80,258.38 L248.11,259.70 L247.41,261.03 L246.71,262.35 L246.01,263.68 L245.31,265.00 L244.60,266.33 L243.90,267.65 L243.19,268.97 L242.49,270.29 L241.78,271.62 L241.07,272.94 L240.36,274.26 L239.65,275.57 L238.93,276.89 L238.22,278.21 L237.50,279.53 L236.79,280.84 L236.07,282.16 L235.35,283.48 L234.63,284.79 L233.91,286.10 L233.19,287.42 L232.46,288.73 L231.74,290.04 L231.01,291.36 L230.29,292.67 L229.56,293.98 L228.83,295.29 L228.10,296.60 L227.37,297.91 L226.64,299.21 L225.91,300.52 L225.17,301.83 L224.44,303.14 L223.70,304.44 L222.97,305.75 L222.23,307.05 L221.49,308.36 L220.75,309.66 L220.01,310.97 L219.27,312.27 L218.53,313.57 L217.79,314.87 L217.04,316.17 L216.30,317.48 L215.55,318.78 L214.81,320.08 L214.06,321.38 L213.31,322.67 L212.57,323.97 L211.82,325.27 L211.07,326.57 L210.31,327.87 L209.56,329.16 L208.81,330.46 L208.06,331.75 L207.30,333.05 L206.55,334.34 L205.79,335.64 L205.04,336.93 L204.28,338.22 L203.52,339.52 L202.76,340.81 L202.01,342.10 L201.25,343.39 L200.49,344.69 L199.73,345.98 L198.96,347.27 L198.20,348.56 L197.44,349.85 L196.68,351.14 L195.91,352.42 L195.15,353.71 L194.38,355.00 L193.62,356.29 L192.85,357.58 L192.09,358.86 L191.32,360.15 L190.56,361.44 L189.80,362.73 L189.04,364.02 L188.28,365.31 L187.52,366.61 L186.76,367.90 L186.00,369.19 L185.25,370.49 L184.50,371.79 L183.75,373.09 L183.01,374.39 L182.27,375.70 L181.53,377.01 L180.80,378.32 L180.06,379.63 L179.33,380.94 L178.60,382.25 L177.87,383.57 L177.14,384.88 L176.41,386.19 L175.68,387.51 L174.95,388.82 L174.21,390.13 L173.47,391.43 L172.73,392.74 L171.99,394.04 L171.24,395.33 L170.48,396.63 L169.72,397.92 L168.95,399.20 L168.18,400.48 L167.40,401.75 L166.62,403.02 L165.84,404.30 L165.06,405.57 L164.30,406.85 L163.55,408.13 L162.81,409.42 L162.10,410.72 L161.41,412.03 L160.75,413.36 L160.11,414.70 L159.51,416.06 L158.94,417.44 L158.40,418.84 L157.90,420.26 L157.44,421.70 L157.02,423.16 L156.65,424.65 L156.32,426.16 L156.04,427.68 L155.81,429.20 L155.64,430.74 L155.53,432.27 L155.48,433.81 L155.50,435.34 L155.59,436.85 L155.75,438.36 L155.99,439.84 L156.30,441.30 L156.70,442.73 L157.19,444.14 L157.76,445.51 L158.42,446.83 L159.16,448.11 L159.97,449.33 L160.87,450.49 L161.84,451.58 L162.88,452.59 L163.99,453.55 L165.16,454.43 L166.38,455.27 L167.64,456.04 L168.95,456.77 L170.30,457.45 L171.67,458.10 L173.07,458.70 L174.49,459.28 L175.92,459.82 L177.36,460.34 L178.80,460.84 L180.24,461.33 L181.68,461.79 L183.13,462.23 L184.58,462.65 L186.03,463.06 L187.49,463.45 L188.94,463.82 L190.40,464.18 L191.86,464.52 L193.32,464.85 L194.79,465.16 L196.26,465.45 L197.72,465.74 L199.19,466.01 L200.67,466.27 L202.14,466.51 L203.62,466.75 L205.09,466.97 L206.57,467.19 L208.05,467.39 L209.53,467.59 L211.01,467.77 L212.50,467.95 L213.98,468.12 L215.47,468.28 L216.95,468.44 L218.44,468.59 L219.93,468.74 L221.42,468.88 L222.91,469.01 L224.40,469.15 L225.90,469.28 L227.39,469.40 L228.88,469.53 L230.38,469.65 L231.87,469.77 L233.36,469.89 L234.86,470.00 L236.36,470.12 L237.85,470.23 L239.35,470.34 L240.84,470.45 L242.34,470.56 L243.84,470.67 L245.33,470.78 L246.83,470.88 L248.33,470.98 L249.83,471.08 L251.32,471.18 L252.82,471.28 L254.32,471.37 L255.82,471.47 L257.31,471.56 L258.81,471.65 L260.31,471.74 L261.81,471.83 L263.30,471.92 L264.80,472.01 L266.30,472.10 L267.79,472.18 L269.29,472.26 L270.79,472.35 L272.28,472.43 L273.78,472.51 L275.27,472.59 L276.77,472.67 L278.27,472.75 L279.76,472.83 L281.26,472.91 L282.75,472.99 L284.25,473.07 L285.74,473.15 L287.24,473.23 L288.73,473.31 L290.23,473.39 L291.73,473.47 L293.22,473.55 L294.72,473.64 L296.21,473.72 L297.71,473.80 L299.20,473.88 L300.70,473.97 L302.20,474.05 L303.69,474.14 L305.19,474.22 L306.68,474.31 L308.18,474.40 L309.68,474.48 L311.17,474.57 L312.67,474.65 L314.17,474.74 L315.66,474.82 L317.16,474.91 L318.66,474.99 L320.15,475.08 L321.65,475.16 L323.15,475.24 L324.64,475.32 L326.14,475.40 L327.64,475.48 L329.14,475.55 L330.63,475.63 L332.13,475.70 L333.63,475.77 L335.13,475.84 L336.62,475.90 L338.12,475.97 L339.62,476.03 L341.12,476.09 L342.61,476.15 L344.11,476.20 L345.61,476.26 L347.11,476.31 L348.61,476.36 L350.10,476.41 L351.60,476.46 L353.10,476.50 L354.60,476.55 L356.10,476.59 L357.59,476.63 L359.09,476.67 L360.59,476.71 L362.09,476.75 L363.59,476.79 L365.09,476.82 L366.58,476.86 L368.08,476.89 L369.58,476.93 L371.08,476.96 L372.58,476.99 L374.08,477.03 L375.57,477.06 L377.07,477.09 L378.57,477.12 L380.07,477.15 L381.57,477.19 L383.07,477.22 L384.56,477.25 L386.06,477.28 L387.56,477.31 L389.06,477.34 L390.56,477.37 L392.06,477.40 L393.56,477.43 L395.05,477.46 L396.55,477.49 L398.05,477.52 L399.55,477.54 L401.05,477.57 L402.55,477.60 L404.05,477.63 L405.54,477.66 L407.04,477.68 L408.54,477.71 L410.04,477.74 L411.54,477.77 L413.04,477.79 L414.54,477.82 L416.03,477.85 L417.53,477.87 L419.03,477.90 L420.53,477.92 L422.03,477.95 L423.53,477.97 L425.03,478.00 L426.52,478.02 L428.02,478.05 L429.52,478.07 L431.02,478.10 L432.52,478.12 L434.02,478.14 L435.52,478.17 L437.01,478.19 L438.51,478.21 L440.01,478.24 L441.51,478.26 L443.01,478.28 L444.51,478.30 L446.01,478.33 L447.50,478.35 L449.00,478.37 L450.50,478.39 L452.00,478.41 L453.50,478.43 L455.00,478.46 L456.50,478.48 L457.99,478.50 L459.49,478.52 L460.99,478.54 L462.49,478.56 L463.99,478.58 L465.49,478.60 L466.99,478.62 L468.49,478.64 L469.98,478.66 L471.48,478.68 L472.98,478.69 L474.48,478.71 L475.98,478.73 L477.48,478.75 L478.98,478.77 L480.47,478.79 L481.97,478.80 L483.47,478.82 L484.97,478.84 L486.47,478.86 L487.97,478.87 L489.47,478.89 L490.97,478.91 L492.46,478.93 L493.96,478.94 L495.46,478.96 L496.96,478.98 L498.46,478.99 L499.96,479.01 L501.46,479.02 L502.96,479.04 L504.45,479.05 L505.95,479.07 L507.45,479.09 L508.95,479.10 L510.45,479.12 L511.95,479.13 L513.45,479.15 L514.94,479.16 L516.44,479.17 L517.94,479.19 L519.44,479.20 L520.94,479.22 L522.44,479.23 L523.94,479.24 L525.44,479.26 L526.93,479.27 L528.43,479.28 L529.93,479.30 L531.43,479.31 L532.93,479.32 L534.43,479.34 L535.93,479.35 L537.43,479.36 L538.92,479.37 L540.42,479.39 L541.92,479.40 L543.42,479.41 L544.92,479.42 L546.42,479.44 L547.92,479.45 L549.42,479.46 L550.91,479.47 L552.41,479.48 L553.91,479.49 L555.41,479.50 L556.91,479.52 L558.41,479.53 L559.91,479.54 L561.41,479.55 L562.91,479.56 L564.40,479.57 L565.90,479.58 L567.40,479.59 L568.90,479.60 L570.40,479.61 L571.90,479.62 L573.40,479.63 L574.90,479.64 L576.39,479.65 L577.89,479.66 L579.39,479.67 L580.89,479.68 L582.39,479.69 L583.89,479.70 L585.39,479.71 L586.89,479.72 L588.38,479.73 L589.88,479.73 L591.38,479.74 L592.88,479.75 L594.38,479.76 L595.88,479.77 L597.38,479.78 L598.88,479.79 L600.37,479.79 L601.87,479.80 L603.37,479.81 L604.87,479.82 L606.37,479.83 L607.87,479.84 L609.37,479.84 L610.87,479.85 L612.37,479.86 L613.86,479.87 L615.36,479.87 L616.86,479.88 L618.36,479.89 L619.86,479.90 L621.36,479.90 L622.86,479.91 L624.36,479.92 L625.85,479.93 L627.35,479.93 L628.85,479.94 L630.35,479.95 L631.85,479.95 L633.35,479.96 L634.85,479.97 L636.35,479.98 L637.84,479.98 L639.34,479.99 L640.84,480.00 L642.34,480.00 L643.84,480.01 L645.34,480.02 L646.84,480.02 L648.34,480.03 L649.83,480.03 L651.33,480.04 L652.83,480.05 L654.33,480.05 L655.83,480.06 L657.33,480.07 L658.83,480.07 L660.33,480.08 L661.82,480.08 L663.32,480.09 L664.82,480.10 L666.32,480.10 L667.82,480.11 L669.32,480.12 L670.82,480.12 L672.32,480.13 L673.81,480.13 L675.31,480.14 L676.81,480.14 L678.31,480.15 L679.81,480.16 L681.31,480.16 L682.81,480.17 L684.31,480.17 L685.80,480.18 L687.30,480.19 L688.80,480.19 L690.30,480.20 L691.80,480.20" fill="none" stroke="#000000" stroke-width="3.4"/>
</g>
<g font-size="37.35" fill="#000">
<text transform="translate(64.90 527.60) scale(1 1.045)" text-anchor="middle">0.2</text>
<text transform="translate(249.72 527.60) scale(1 1.045)" text-anchor="middle">0.3</text>
<text transform="translate(434.55 527.60) scale(1 1.045)" text-anchor="middle">0.4</text>
<text transform="translate(619.37 527.60) scale(1 1.045)" text-anchor="middle">0.5</text>
<text transform="translate(804.20 527.60) scale(1 1.045)" text-anchor="middle">0.6</text>
<text transform="translate(62.30 405.92) scale(1 1.045)" text-anchor="end">20</text>
<text transform="translate(62.30 314.54) scale(1 1.045)" text-anchor="end">40</text>
<text transform="translate(62.30 223.16) scale(1 1.045)" text-anchor="end">60</text>
<text transform="translate(62.30 131.78) scale(1 1.045)" text-anchor="end">80</text>
<text transform="translate(62.30 40.40) scale(1 1.045)" text-anchor="end">00</text><path transform="translate(0.00 40.10)" d="M14.2,0 L14.2,-27.1 L11.6,-27.1 Q9.6,-22.6 3.7,-19.6 L3.7,-16.7 Q7.6,-18.3 10.45,-20.9 L10.45,0 Z"/>
<line x1="506.8" y1="176.8" x2="585.0" y2="176.8" stroke="#7f007f" stroke-width="3.4" stroke-dasharray="5.35 4.8 11.85 5.0"/>
<text transform="translate(611.30 190.50) scale(0.94 0.975)" font-style="italic">b</text><text transform="translate(629.70 196.50) scale(1 1.045)" font-size="26.3">0</text><rect x="657.2" y="174.90" width="17.85" height="3.2"/><rect x="657.2" y="182.90" width="17.85" height="3.2"/><text transform="translate(688.10 190.50) scale(1 1.045)">0.7903</text>
<line x1="506.8" y1="238.4" x2="589.9" y2="238.4" stroke="#aa0000" stroke-width="3.4" stroke-dasharray="5.2 5.23"/>
<text transform="translate(611.30 252.10) scale(0.94 0.975)" font-style="italic">b</text><text transform="translate(629.70 258.10) scale(1 1.045)" font-size="26.3">0</text><rect x="657.2" y="236.50" width="17.85" height="3.2"/><rect x="657.2" y="244.50" width="17.85" height="3.2"/><text transform="translate(688.10 252.10) scale(1 1.045)">0.8400</text>
<line x1="506.8" y1="300.0" x2="589.9" y2="300.0" stroke="#0000aa" stroke-width="3.4" stroke-dasharray="11.9 4.72"/>
<text transform="translate(611.30 313.70) scale(0.94 0.975)" font-style="italic">b</text><text transform="translate(629.70 319.70) scale(1 1.045)" font-size="26.3">0</text><rect x="657.2" y="298.10" width="17.85" height="3.2"/><rect x="657.2" y="306.10" width="17.85" height="3.2"/><text transform="translate(688.10 313.70) scale(1 1.045)">0.9202</text>
<line x1="506.8" y1="361.55" x2="589.9" y2="361.55" stroke="#ad5700" stroke-width="3.4" stroke-dasharray="13.85 11.07"/>
<text transform="translate(611.30 375.25) scale(0.94 0.975)" font-style="italic">b</text><text transform="translate(629.70 381.25) scale(1 1.045)" font-size="26.3">0</text><rect x="657.2" y="359.65" width="17.85" height="3.2"/><rect x="657.2" y="367.65" width="17.85" height="3.2"/><text transform="translate(688.10 375.25) scale(1 1.045)">0.958</text><path transform="translate(781.55 374.95)" d="M14.2,0 L14.2,-27.1 L11.6,-27.1 Q9.6,-22.6 3.7,-19.6 L3.7,-16.7 Q7.6,-18.3 10.45,-20.9 L10.45,0 Z"/>
<line x1="506.8" y1="428.3" x2="589.9" y2="428.3" stroke="#000" stroke-width="3.4"/>
<path d="M611.05,415.05 H622.3 C626.6,415.05 628.9,417.9 628.9,421.6 C628.9,424.7 627.4,426.8 624.9,427.6 C628.2,428.4 630.3,430.9 630.3,434.1 C630.3,438.6 627,441.4 622,441.4 H611.05 Z M613.05,417.95 V438.5 H615.1 V417.95 Z M618.8,417.65 V425.9 H621.6 C624.1,425.9 625.2,424.2 625.2,421.8 C625.2,419.3 624.1,417.65 621.6,417.65 Z M618.8,428.5 V438.5 H622 C625.1,438.5 626.4,436.5 626.4,433.5 C626.4,430.6 625.1,428.5 622,428.5 Z" fill="#000" fill-rule="evenodd"/>
<text transform="translate(632.20 450.80) scale(1 1.08)" font-size="26.3">8</text>
<text transform="translate(631.80 427.70) scale(1.035 0.98)" font-size="26.3">conf</text>
</g>
</svg>
</body></html>
